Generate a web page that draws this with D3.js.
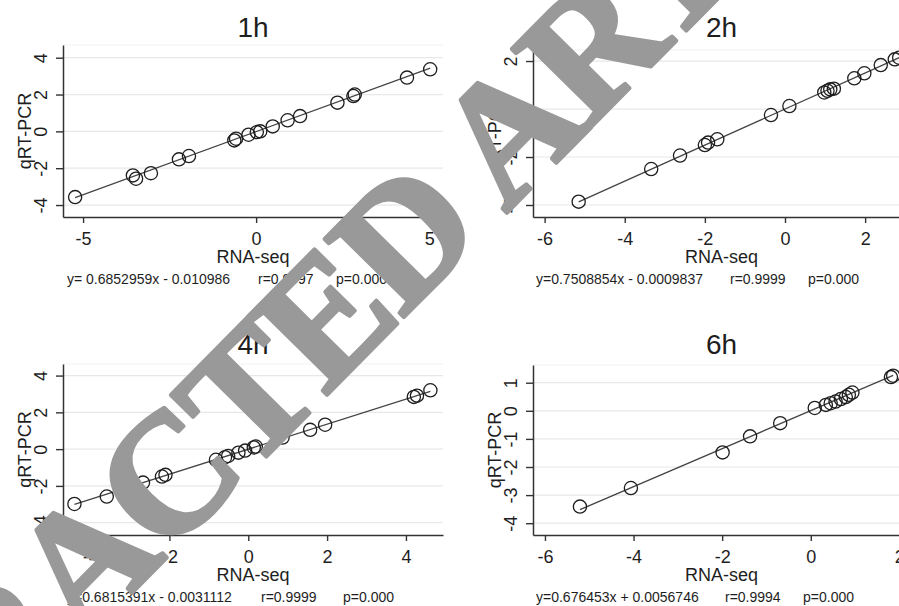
<!DOCTYPE html>
<html>
<head>
<meta charset="utf-8">
<script src="https://cdn.jsdelivr.net/npm/d3@7"></script>
<style>
  body { margin: 0; background: #fff; }
  text { font-family: "Liberation Sans", Arial, sans-serif; fill: #1e1e1e; }
</style>
</head>
<body>
<svg class="chart"></svg>
<script>
let width = 899,
  height = 606;

// panel names
let titles = ["1h", "2h", "4h", "6h"];

// RNA-seq (x) and qRT-PCR (y) values
let x1h = [-5.23, -3.56, -3.47, -3.04, -2.23, -1.94, -0.63, -0.58, -0.22, 0.02, 0.12, 0.48, 0.91, 1.27, 2.35, 2.81, 2.85, 4.36, 5.03];
let y1h = [-3.57, -2.39, -2.57, -2.27, -1.52, -1.34, -0.49, -0.4, -0.18, -0.04, 0.0, 0.27, 0.6, 0.83, 1.56, 1.92, 2.0, 2.92, 3.37];

let x2h = [-5.15, -3.34, -2.62, -2.0, -1.92, -1.69, -0.35, 0.11, 0.98, 1.06, 1.13, 1.22, 1.73, 1.98, 2.39, 2.74, 2.85, 3.05];
let y2h = [-3.86, -2.5, -1.94, -1.5, -1.4, -1.26, -0.25, 0.125, 0.69, 0.76, 0.82, 0.85, 1.28, 1.49, 1.83, 2.07, 2.14, 2.29];

let x4h = [-4.41, -3.59, -2.67, -2.19, -2.1, -0.82, -0.59, -0.51, -0.25, -0.08, 0.14, 0.19, 0.87, 1.57, 1.95, 4.2, 4.28, 4.62];
let y4h = [-2.98, -2.58, -1.82, -1.49, -1.4, -0.58, -0.44, -0.37, -0.19, -0.08, 0.09, 0.14, 0.63, 1.05, 1.33, 2.84, 2.91, 3.2];

let x6h = [-5.21, -4.06, -1.99, -1.37, -0.69, 0.09, 0.34, 0.45, 0.56, 0.68, 0.79, 0.86, 0.94, 1.81, 1.86];
let y6h = [-3.41, -2.75, -1.48, -0.91, -0.44, 0.1, 0.21, 0.27, 0.33, 0.42, 0.49, 0.57, 0.65, 1.2, 1.25];

// fitted lines
let slopes = [0.6852959, 0.7508854, 0.6815391, 0.676453];
let intercepts = [-0.010986, -0.0009837, -0.0031112, 0.0056746];

// notes under each panel
let eqTexts = ["y= 0.6852959x - 0.010986", "y=0.7508854x - 0.0009837", "y=0.6815391x - 0.0031112", "y=0.676453x + 0.0056746"];
let rTexts = ["r=0.9997", "r=0.9999", "r=0.9999", "r=0.9994"];
let pTexts = ["p=0.000", "p=0.000", "p=0.000", "p=0.000"];

// tick values
let xTicks = [[-5, 0, 5], [-6, -4, -2, 0, 2], [-4, -2, 0, 2, 4], [-6, -4, -2, 0, 2]];
let yTicks = [[-4, -2, 0, 2, 4], [-4, -2, 0, 2], [-4, -2, 0, 2, 4], [-4, -3, -2, -1, 0, 1]];

let xData = [x1h, x2h, x4h, x6h];
let yData = [y1h, y2h, y4h, y6h];

// plot boxes (pixels) and axis extents
let panels = [
  { l: 63, r: 443, t: 45, b: 217, xd: [-5.58, 5.4], yd: [-4.65, 4.69], titleY: 37, notes: [4, 195, 273] },
  { l: 533, r: 910, t: 50, b: 217, xd: [-6.29, 3.12], yd: [-4.5, 2.46], titleY: 37, notes: [3, 197, 275] },
  { l: 63, r: 443, t: 364, b: 535, xd: [-4.7, 4.94], yd: [-4.67, 4.63], titleY: 354, notes: [4, 198, 280] },
  { l: 533, r: 910, t: 365, b: 535, xd: [-6.27, 2.24], yd: [-4.42, 1.63], titleY: 354, notes: [3, 192, 270] },
];

let svg = d3.select(".chart").attr("width", width).attr("height", height);

panels.forEach(function (p, i) {
  let x = d3.scaleLinear().domain(p.xd).range([p.l, p.r]);
  let y = d3.scaleLinear().domain(p.yd).range([p.b, p.t]);
  let g = svg.append("g");

  // faint top edge of plot region
  g.append("line")
    .attr("x1", p.l).attr("x2", p.r)
    .attr("y1", p.t).attr("y2", p.t)
    .attr("stroke", "#f1f1f1").attr("stroke-width", 1);

  // grid
  g.selectAll(".grid")
    .data(yTicks[i])
    .enter()
    .append("line")
    .attr("x1", p.l).attr("x2", p.r)
    .attr("y1", (d) => y(d)).attr("y2", (d) => y(d))
    .attr("stroke", "#e8e8e8").attr("stroke-width", 1.2);

  // y axis
  let ya = g.append("g")
    .attr("transform", "translate(" + p.l + ",0)")
    .call(d3.axisLeft(y).tickValues(yTicks[i]).tickSize(7).tickSizeOuter(0).tickFormat((d) => String(d)));
  ya.selectAll("text")
    .attr("transform", "rotate(-90)")
    .attr("text-anchor", "middle")
    .attr("x", 0).attr("y", -16).attr("dy", 0)
    .style("font-size", "18px");

  // x axis
  let xa = g.append("g")
    .attr("transform", "translate(0," + p.b + ")")
    .call(d3.axisBottom(x).tickValues(xTicks[i]).tickSize(6).tickSizeOuter(0).tickFormat((d) => String(d)));
  xa.selectAll("text")
    .attr("y", 28).attr("dy", 0)
    .style("font-size", "18px");

  [ya, xa].forEach(function (a) {
    a.select(".domain").attr("stroke", "#333").attr("stroke-width", 1.5);
    a.selectAll(".tick line").attr("stroke", "#333").attr("stroke-width", 1.4);
    a.selectAll("text").style("fill", "#1e1e1e").style("font-family", "Liberation Sans, Arial, sans-serif");
  });

  // fitted line
  let ext = d3.extent(xData[i]);
  g.append("line")
    .attr("x1", x(ext[0])).attr("y1", y(slopes[i] * ext[0] + intercepts[i]))
    .attr("x2", x(ext[1])).attr("y2", y(slopes[i] * ext[1] + intercepts[i]))
    .attr("stroke", "#444").attr("stroke-width", 1.3);

  // points
  g.selectAll(".pt")
    .data(xData[i])
    .enter()
    .append("circle")
    .attr("cx", (d) => x(d))
    .attr("cy", (d, j) => y(yData[i][j]))
    .attr("r", 6.6)
    .attr("fill", "none")
    .attr("stroke", "#1e1e1e")
    .attr("stroke-width", 1.3);

  let cx = (p.l + p.r) / 2;
  g.append("text")
    .attr("x", cx).attr("y", p.titleY)
    .attr("text-anchor", "middle")
    .style("font-size", "28px")
    .text(titles[i]);

  g.append("text")
    .attr("x", cx).attr("y", p.b + 46)
    .attr("text-anchor", "middle")
    .style("font-size", "18px")
    .text("RNA-seq");

  g.append("text")
    .attr("transform", "translate(" + (p.l - 32) + "," + (p.t + p.b) / 2 + ") rotate(-90)")
    .attr("text-anchor", "middle")
    .style("font-size", "18px")
    .text("qRT-PCR");

  let notes = [eqTexts[i], rTexts[i], pTexts[i]];
  notes.forEach(function (s, k) {
    g.append("text")
      .attr("x", p.l + p.notes[k]).attr("y", p.b + 67)
      .style("font-size", "14px")
      .text(s);
  });
});

// stamp across the figure
svg.append("text")
  .attr("transform", "translate(-239,969) rotate(-45.4)")
  .style("font-family", "Liberation Serif, Times New Roman, serif")
  .style("font-weight", "bold")
  .style("font-size", "170px")
  .style("letter-spacing", "-4px")
  .style("fill", "#999999")
  .style("stroke", "#999999")
  .style("stroke-width", "4px")
  .style("stroke-linejoin", "round")
  .text("RETRACTED ARTICLE");
</script>
</body>
</html>
